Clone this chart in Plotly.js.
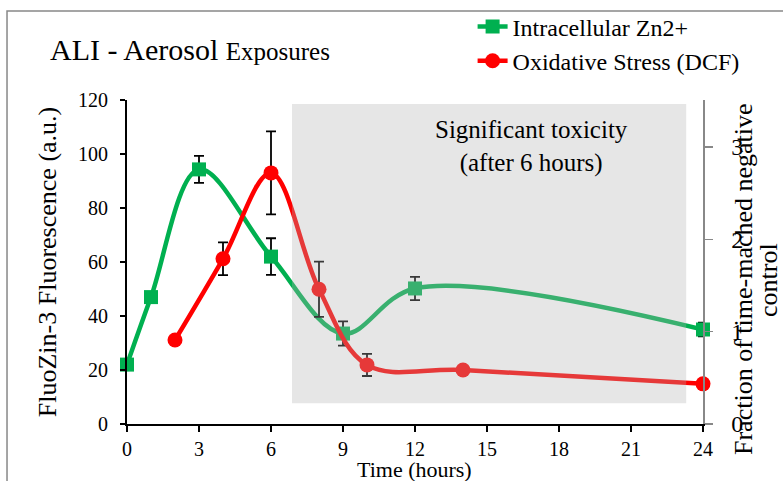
<!DOCTYPE html>
<html>
<head>
<meta charset="utf-8">
<script src="https://cdn.plot.ly/plotly-3.0.1.min.js"></script>
<style>html,body{margin:0;padding:0;background:#fff;}#chart{width:783px;height:481px;}</style>
</head>
<body>
<div id="chart"></div>
<script>
// Intracellular Zn2+ (left axis, FluoZin-3 fluorescence, a.u.)
var znTime = [0, 1, 3, 6, 9, 12, 24];
var znValue = [22, 47, 94.3, 62, 33.5, 50.2, 35];
var znError = [NaN, NaN, 5, 6.8, 4.5, 4.3, 2.5];

// Oxidative stress DCF (right axis, fraction of time-matched negative control)
var dcfTime = [2, 4, 6, 8, 10, 14, 24];
var dcfValue = [0.91, 1.79, 2.72, 1.46, 0.64, 0.585, 0.435];
var dcfError = [NaN, 0.177, 0.45, 0.3, 0.12, NaN, NaN];

var xTicks = [0, 3, 6, 9, 12, 15, 18, 21, 24];
var yLeftTicks = [0, 20, 40, 60, 80, 100, 120];
var yRightTicks = [0, 1, 2, 3];

// shaded "significant toxicity" region
var shadeX = [6.875, 23.3];
var shadeY = [7.7, 118.5];

var FONT = "'Liberation Serif', 'Times New Roman', serif";
var GREEN = '#00B050';
var RED = '#FF0000';

var traces = [
  {
    x: znTime, y: znValue, type: 'scatter', mode: 'lines+markers',
    name: 'Intracellular Zn2+', legendgroup: 'a', cliponaxis: false,
    line: {color: GREEN, width: 4.5, shape: 'spline', smoothing: 1},
    marker: {symbol: 'square', size: 14, color: GREEN},
    error_y: {type: 'data', array: znError, visible: true, color: '#000', thickness: 1.8, width: 5}
  },
  {
    x: dcfTime, y: dcfValue, type: 'scatter', mode: 'lines+markers', yaxis: 'y2',
    name: 'Oxidative Stress (DCF)', legendgroup: 'b', cliponaxis: false,
    line: {color: RED, width: 4.5, shape: 'spline', smoothing: 1},
    marker: {symbol: 'circle', size: 15, color: RED},
    error_y: {type: 'data', array: dcfError, visible: true, color: '#000', thickness: 1.8, width: 5}
  }
];

var layout = {
  width: 783, height: 481,
  margin: {l: 127, r: 80, t: 100, b: 57, autoexpand: false},
  paper_bgcolor: '#fff', plot_bgcolor: 'rgba(0,0,0,0)',
  font: {family: FONT, color: '#000', size: 20},
  title: {
    text: 'ALI - Aerosol <span style="font-size:25px">Exposures</span>',
    font: {family: FONT, size: 30, color: '#000'},
    xref: 'container', yref: 'container',
    x: 50 / 783, xanchor: 'left', y: 1 - 49 / 481, yanchor: 'middle'
  },
  showlegend: true,
  legend: {
    x: 0.6, xanchor: 'left', y: (424 - 44) / 324, yanchor: 'middle',
    font: {family: FONT, size: 24, color: '#000'},
    bgcolor: 'rgba(0,0,0,0)', tracegroupgap: 0
  },
  xaxis: {
    range: [0, 24], tickvals: xTicks, ticktext: xTicks.map(String),
    showline: true, linecolor: '#000', linewidth: 2,
    ticks: 'outside', ticklen: 6, tickwidth: 2, tickcolor: '#000',
    showgrid: false, zeroline: false,
    tickfont: {family: FONT, size: 20, color: '#000'}
  },
  yaxis: {
    range: [0, 120], tickvals: yLeftTicks, ticktext: yLeftTicks.map(String),
    showline: true, linecolor: '#000', linewidth: 2,
    ticks: 'outside', ticklen: 5, tickwidth: 2, tickcolor: '#000',
    showgrid: false, zeroline: false, ticklabelstandoff: 8,
    tickfont: {family: FONT, size: 20, color: '#000'},
    title: {text: 'FluoZin-3 Fluorescence (a.u.)', font: {family: FONT, size: 26, color: '#000'}, standoff: 14}
  },
  yaxis2: {
    range: [0, 3.51], tickvals: yRightTicks, ticktext: yRightTicks.map(String),
    overlaying: 'y', side: 'right',
    showline: true, linecolor: '#888', linewidth: 1.5,
    ticks: 'outside', ticklen: 8, tickwidth: 1.5, tickcolor: '#888',
    showgrid: false, zeroline: false, ticklabelstandoff: 14,
    tickfont: {family: FONT, size: 24, color: '#000'}
  },
  shapes: [
    {type: 'rect', xref: 'x', yref: 'y', x0: shadeX[0], x1: shadeX[1], y0: shadeY[0], y1: shadeY[1],
     fillcolor: 'rgba(176,176,176,0.32)', line: {width: 0}, layer: 'above'},
    {type: 'rect', xref: 'paper', yref: 'paper', x0: -0.2083, x1: 1.2, y0: -0.3, y1: 1.2747,
     fillcolor: 'rgba(0,0,0,0)', line: {color: '#888', width: 1.5}, layer: 'below'}
  ],
  annotations: [
    {text: 'Time (hours)', xref: 'paper', yref: 'paper',
     x: (414 - 127) / 576, y: (424 - 455) / 324, xanchor: 'center', yanchor: 'top',
     showarrow: false, font: {family: FONT, size: 22, color: '#000'}},
    {text: 'Significant toxicity<br>(after 6 hours)', xref: 'paper', yref: 'paper',
     x: (531 - 127) / 576, y: (424 - 146) / 324, xanchor: 'center', yanchor: 'middle',
     showarrow: false, align: 'center', font: {family: FONT, size: 25, color: '#000'}},
    {text: 'Fraction of time-mached negative', xref: 'paper', yref: 'paper',
     x: (743 - 127) / 576, y: (424 - 279) / 324, xanchor: 'center', yanchor: 'middle',
     textangle: -90, showarrow: false, font: {family: FONT, size: 26, color: '#000'}},
    {text: 'control', xref: 'paper', yref: 'paper',
     x: (768 - 127) / 576, y: (424 - 280) / 324, xanchor: 'center', yanchor: 'middle',
     textangle: -90, showarrow: false, font: {family: FONT, size: 26, color: '#000'}}
  ]
};

Plotly.newPlot('chart', traces, layout, {staticPlot: true, displayModeBar: false});
</script>
</body>
</html>
